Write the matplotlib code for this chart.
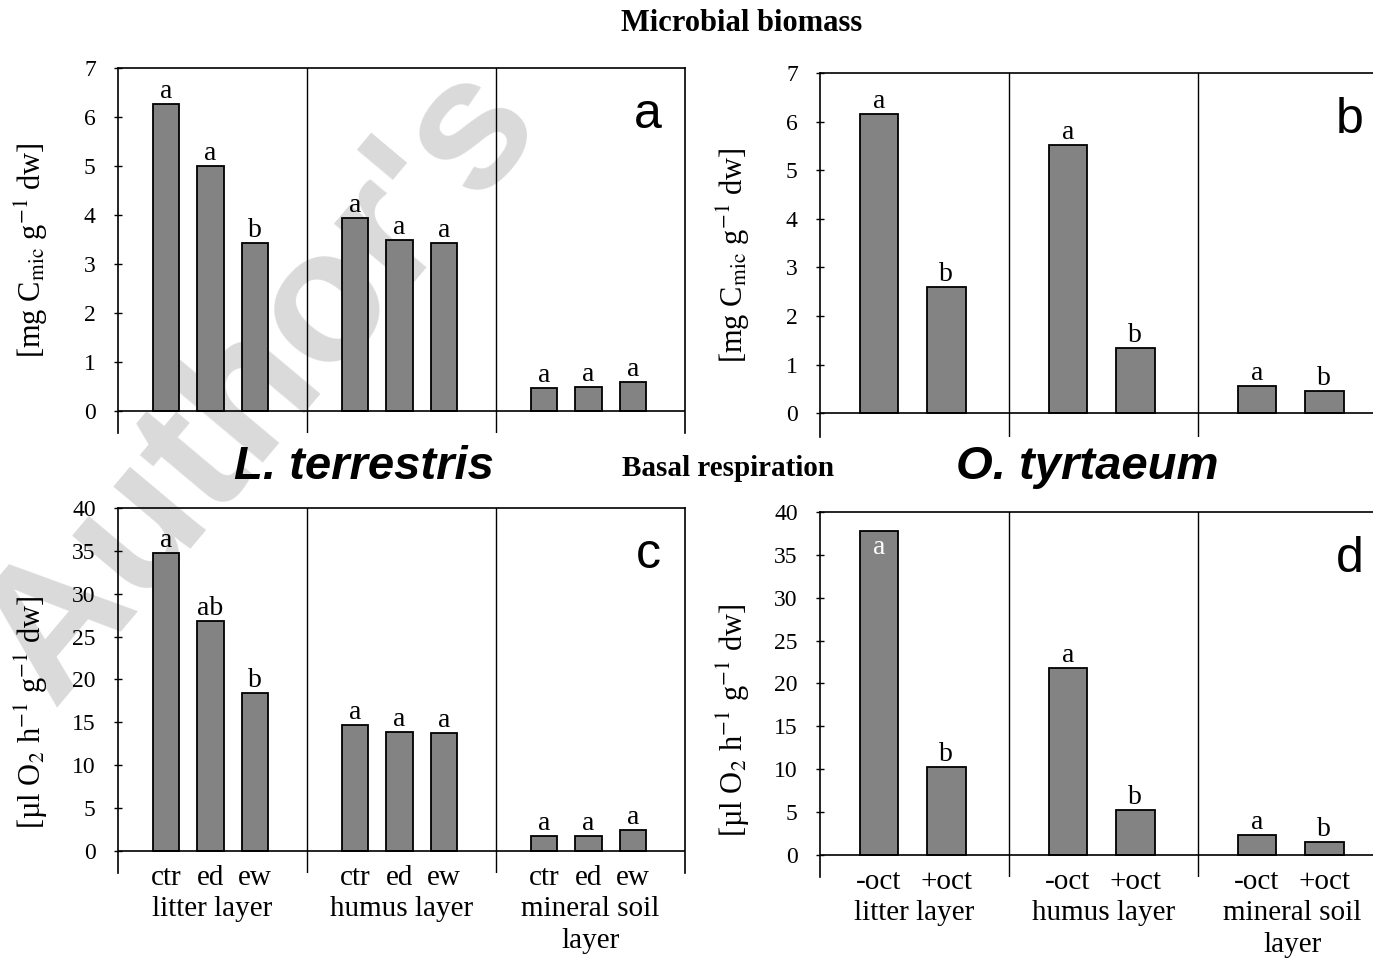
import numpy as np
import matplotlib.pyplot as plt
from matplotlib import transforms

plt.rcParams["font.family"] = ["Liberation Serif", "DejaVu Serif"]
plt.rcParams["mathtext.fontset"] = "stix"
plt.rcParams["axes.linewidth"] = 1.2


# layers and treatments
layers = ["litter layer", "humus layer", "mineral soil\nlayer"]
lt_treat = ["ctr", "ed", "ew"]
ot_treat = ["-oct", "+oct"]

# microbial biomass [mg Cmic g-1 dw]
cmic_lt = [[6.27, 5.00, 3.43], [3.93, 3.50, 3.43], [0.47, 0.50, 0.60]]
cmic_lt_sig = [["a", "a", "b"], ["a", "a", "a"], ["a", "a", "a"]]
cmic_ot = [[6.15, 2.60], [5.52, 1.35], [0.55, 0.45]]
cmic_ot_sig = [["a", "b"], ["a", "b"], ["a", "b"]]

# basal respiration [ul O2 h-1 g-1 dw]
resp_lt = [[34.8, 26.8, 18.4], [14.7, 13.9, 13.8], [1.7, 1.7, 2.5]]
resp_lt_sig = [["a", "ab", "b"], ["a", "a", "a"], ["a", "a", "a"]]
resp_ot = [[37.8, 10.3], [21.8, 5.2], [2.3, 1.5]]
resp_ot_sig = [["a", "b"], ["a", "b"], ["a", "b"]]

cmic_label = r"[mg C$_{\mathrm{mic}}$ g$^{\mathrm{-1}}$ dw]"
resp_label = r"[µl O$_{\mathrm{2}}$ h$^{\mathrm{-1}}$ g$^{\mathrm{-1}}$ dw]"


fig = plt.figure(figsize=(13.73, 9.61), dpi=100)

# watermark behind the panels
fig.text(0.19, 0.60, "Author's", rotation=50, fontsize=135, fontweight="bold",
         family="Liberation Sans", color="#dadada", ha="center", va="center", zorder=-5)


def draw_panel(rect, values, sig, treat, ymax, ystep, ylow, letter, ylabel, ylab_y, xlabels):
    ax = fig.add_axes(rect)
    ax.patch.set_alpha(0)

    n = len(treat)
    if n == 3:
        offsets = np.array([-0.235, 0.0, 0.235])
        width = 0.14
    else:
        offsets = np.array([-0.178, 0.178])
        width = 0.205
    centre = 0.49

    for g, vals in enumerate(values):
        xs = g + centre + offsets
        ax.bar(xs, vals, width=width, color="#838383", edgecolor="black", linewidth=1.3, zorder=3)
        for x, v, s in zip(xs, vals, sig[g]):
            if v > 0.9 * ymax:
                ax.annotate(s, (x, v), xytext=(0, -3), textcoords="offset points",
                            ha="center", va="top", fontsize=20, color="white", zorder=4)
            else:
                ax.annotate(s, (x, v), xytext=(0, 0), textcoords="offset points",
                            ha="center", va="bottom", fontsize=20, zorder=4)

        if xlabels:
            trans = transforms.blended_transform_factory(ax.transData, ax.transAxes)
            for x, t in zip(xs, treat):
                ax.text(x, -0.015, t, transform=trans, ha="center", va="center", fontsize=21)
            ax.text(g + 0.5, -0.062, layers[g], transform=trans, ha="center", va="top",
                    fontsize=21, linespacing=1.3)

    ax.set_xlim(0, 3)
    ax.set_ylim(ylow, ymax)
    ax.axhline(0, color="black", linewidth=1.2, zorder=5)
    for xb in (1, 2):
        ax.axvline(xb, color="black", linewidth=1.0, zorder=5)
    ax.spines["bottom"].set_visible(False)

    ax.set_yticks(np.arange(0, ymax + 0.1, ystep))
    ax.tick_params(axis="y", direction="inout", length=6, width=1, labelsize=17, pad=13)
    ax.tick_params(axis="x", bottom=False, labelbottom=False)

    ax.set_ylabel(ylabel, fontsize=22)
    ax.yaxis.set_label_coords(-0.12, ylab_y)

    ax.text(0.935, 0.87, letter, transform=ax.transAxes, ha="center", va="center",
            fontsize=36, family="Liberation Sans")
    return ax


axw = 567 / 1373.0
draw_panel([118 / 1373.0, 0.5494, axw, 0.3798], cmic_lt, cmic_lt_sig, lt_treat,
           7, 1, -0.449, "a", cmic_label, 0.5, False)
draw_panel([820 / 1373.0, 0.5453, axw, 0.3788], cmic_ot, cmic_ot_sig, ot_treat,
           7, 1, -0.49, "b", cmic_label, 0.5, False)
draw_panel([118 / 1373.0, 0.0916, axw, 0.3798], resp_lt, resp_lt_sig, lt_treat,
           40, 5, -2.57, "c", resp_label, 0.44, True)
draw_panel([820 / 1373.0, 0.0874, axw, 0.3798], resp_ot, resp_ot_sig, ot_treat,
           40, 5, -2.57, "d", resp_label, 0.43, True)


# headings
fig.text(0.540, 0.976, "Microbial biomass", ha="center", va="center", fontsize=22, fontweight="bold")
fig.text(0.530, 0.512, "Basal respiration", ha="center", va="center", fontsize=21, fontweight="bold")
fig.text(0.265, 0.514, "L. terrestris", ha="center", va="center", fontsize=34,
         fontweight="bold", style="italic", family="Liberation Sans")
fig.text(0.792, 0.514, "O. tyrtaeum", ha="center", va="center", fontsize=34,
         fontweight="bold", style="italic", family="Liberation Sans")

fig.savefig("out.png", dpi=100)
